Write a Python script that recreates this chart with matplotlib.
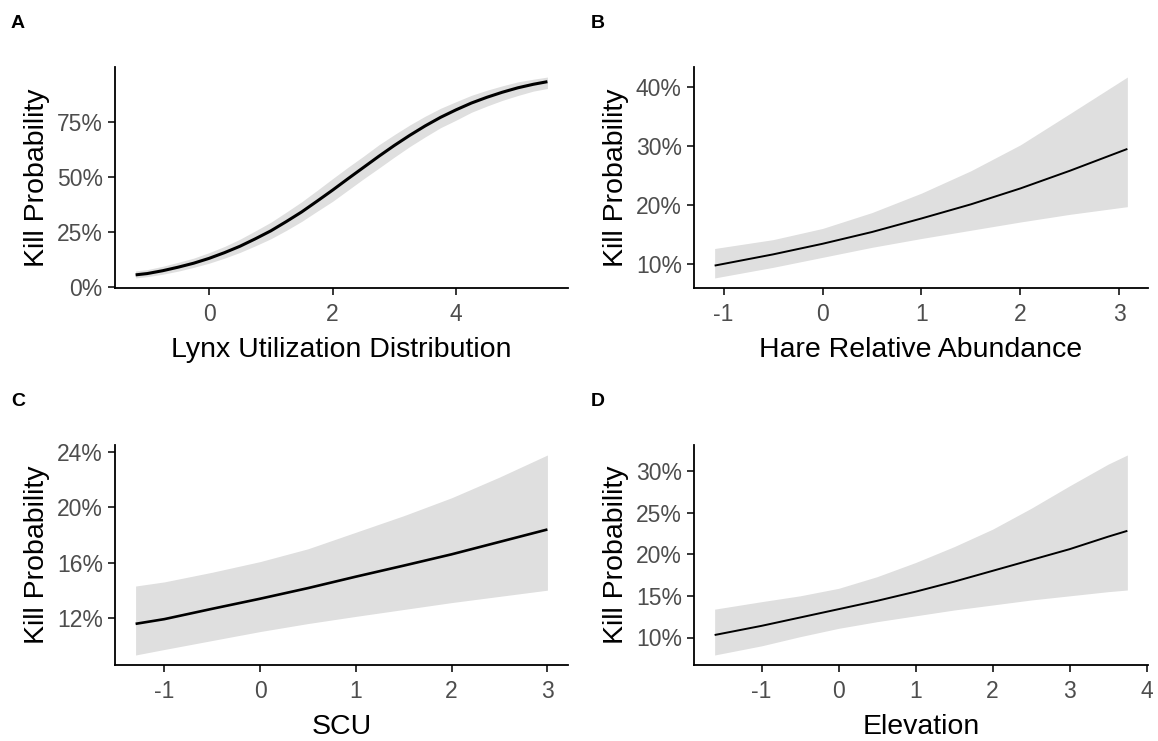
import numpy as np
import matplotlib
matplotlib.use("Agg")
import matplotlib.pyplot as plt
from matplotlib.ticker import PercentFormatter

plt.rcParams["font.family"] = ["Liberation Sans", "DejaVu Sans"]

# A : lynx utilization distribution
lynx_x = [-1.19, -1.0, -0.75, -0.5, -0.25, 0.0, 0.25, 0.5, 0.75, 1.0, 1.25, 1.5, 1.75, 2.0,
          2.25, 2.5, 2.75, 3.0, 3.25, 3.5, 3.75, 4.0, 4.25, 4.5, 4.75, 5.0, 5.25, 5.48]
lynx_fit = [0.055, 0.061, 0.074, 0.090, 0.108, 0.130, 0.156, 0.185, 0.219, 0.255, 0.297, 0.341, 0.390, 0.440,
            0.492, 0.543, 0.594, 0.643, 0.689, 0.732, 0.771, 0.805, 0.836, 0.862, 0.885, 0.905, 0.921, 0.933]
lynx_lo = [0.041, 0.047, 0.058, 0.072, 0.089, 0.108, 0.131, 0.157, 0.187, 0.219, 0.257, 0.298, 0.344, 0.389,
           0.440, 0.491, 0.540, 0.590, 0.638, 0.682, 0.724, 0.758, 0.794, 0.822, 0.848, 0.870, 0.890, 0.902]
lynx_hi = [0.073, 0.079, 0.094, 0.112, 0.131, 0.156, 0.184, 0.217, 0.255, 0.294, 0.340, 0.387, 0.439, 0.492,
           0.544, 0.594, 0.646, 0.692, 0.736, 0.776, 0.812, 0.842, 0.871, 0.894, 0.914, 0.932, 0.944, 0.954]

# B : hare relative abundance
hare_x = [-1.09, -0.5, 0.0, 0.5, 1.0, 1.5, 2.0, 2.5, 3.08]
hare_fit = [0.097, 0.116, 0.134, 0.154, 0.177, 0.201, 0.228, 0.258, 0.295]
hare_lo = [0.076, 0.094, 0.111, 0.128, 0.143, 0.157, 0.171, 0.184, 0.197]
hare_hi = [0.126, 0.141, 0.160, 0.187, 0.220, 0.258, 0.302, 0.355, 0.417]

# C : SCU
scu_x = [-1.3, -1.0, -0.5, 0.0, 0.5, 1.0, 1.5, 2.0, 2.5, 3.0]
scu_fit = [0.1156, 0.119, 0.1265, 0.1338, 0.1415, 0.1498, 0.1578, 0.166, 0.175, 0.184]
scu_lo = [0.093, 0.097, 0.1035, 0.110, 0.1158, 0.121, 0.126, 0.131, 0.1355, 0.140]
scu_hi = [0.143, 0.146, 0.153, 0.1607, 0.170, 0.182, 0.194, 0.207, 0.222, 0.238]

# D : elevation
elev_x = [-1.61, -1.0, -0.5, 0.0, 0.5, 1.0, 1.5, 2.0, 2.5, 3.0, 3.5, 3.75]
elev_fit = [0.103, 0.114, 0.124, 0.134, 0.144, 0.155, 0.167, 0.180, 0.193, 0.206, 0.221, 0.228]
elev_lo = [0.079, 0.090, 0.101, 0.111, 0.119, 0.126, 0.133, 0.139, 0.145, 0.150, 0.155, 0.157]
elev_hi = [0.134, 0.143, 0.150, 0.159, 0.173, 0.190, 0.209, 0.230, 0.255, 0.282, 0.308, 0.319]

W, H = 1158, 741
fig = plt.figure(figsize=(W / 100, H / 100), dpi=100)

def make_axes(left, top, right, bottom):
    # pixel box -> figure fraction
    return fig.add_axes([left / W, 1 - bottom / H, (right - left) / W, (bottom - top) / H])

def effect_panel(ax, x, fit, lo, hi, xlabel, xticks, yticks, lw, letter, letter_xy):
    ax.fill_between(x, lo, hi, color="#dfdfdf", linewidth=0)
    ax.plot(x, fit, color="black", linewidth=lw, solid_capstyle="butt")
    ax.margins(x=0.05, y=0.05)
    ax.set_xticks(xticks)
    ax.set_xticklabels([str(t) for t in xticks])
    ax.set_yticks(yticks)
    ax.yaxis.set_major_formatter(PercentFormatter(1.0, decimals=0))
    for s in ["top", "right"]:
        ax.spines[s].set_visible(False)
    for s in ["left", "bottom"]:
        ax.spines[s].set_linewidth(1.3)
    ax.tick_params(axis="both", length=4.8, width=1.1, color="black",
                   labelsize=16.5, labelcolor="#4d4d4d")
    ax.tick_params(axis="x", pad=6)
    ax.tick_params(axis="y", pad=4)
    ax.set_xlabel(xlabel, fontsize=20.5, labelpad=8)
    ax.set_ylabel("Kill Probability", fontsize=20.5, labelpad=5)
    fig.text(letter_xy[0] / W, 1 - letter_xy[1] / H, letter, fontsize=14,
             fontweight="bold", ha="center", va="center")

axA = make_axes(115, 67, 568, 288)
effect_panel(axA, lynx_x, lynx_fit, lynx_lo, lynx_hi, "Lynx Utilization Distribution",
             [0, 2, 4], [0, 0.25, 0.5, 0.75], 2.2, "A", (18, 23))

axB = make_axes(694, 67, 1148, 288)
effect_panel(axB, hare_x, hare_fit, hare_lo, hare_hi, "Hare Relative Abundance",
             [-1, 0, 1, 2, 3], [0.1, 0.2, 0.3, 0.4], 1.4, "B", (598, 23))

axC = make_axes(115, 445, 568, 665)
effect_panel(axC, scu_x, scu_fit, scu_lo, scu_hi, "SCU",
             [-1, 0, 1, 2, 3], [0.12, 0.16, 0.20, 0.24], 1.9, "C", (18, 401))

axD = make_axes(694, 445, 1148, 665)
effect_panel(axD, elev_x, elev_fit, elev_lo, elev_hi, "Elevation",
             [-1, 0, 1, 2, 3, 4], [0.10, 0.15, 0.20, 0.25, 0.30], 1.4, "D", (598, 401))

fig.savefig("out.png", dpi=100)
